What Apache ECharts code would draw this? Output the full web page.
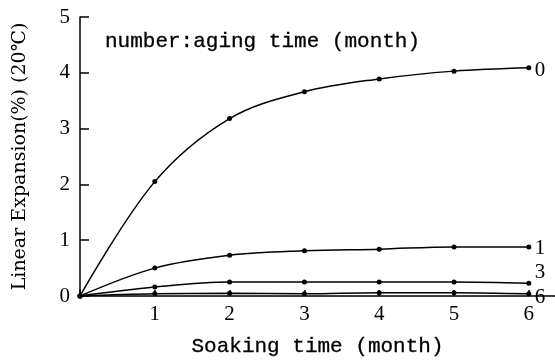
<!DOCTYPE html>
<html><head><meta charset="utf-8">
<script src="https://cdn.jsdelivr.net/npm/echarts@6/dist/echarts.min.js"></script>
<style>html,body{margin:0;padding:0;background:#fff}#c{width:555px;height:360px}</style>
</head><body><div id="c"></div>
<script>
const months = [0, 1, 2, 3, 4, 5, 6];
const aging0 = [0, 2.05, 3.18, 3.66, 3.89, 4.03, 4.09];
const aging1 = [0, 0.50, 0.73, 0.81, 0.84, 0.88, 0.88];
const aging3 = [0, 0.16, 0.25, 0.25, 0.25, 0.25, 0.23];
const aging6 = [0, 0.04, 0.05, 0.04, 0.06, 0.06, 0.04];
const seriesNames = ['0', '1', '3', '6'];
const yTicks = [0, 1, 2, 3, 4, 5];

const serif = 'Liberation Serif';
const mono = 'Liberation Mono';
const chart = echarts.init(document.getElementById('c'), null, {renderer: 'canvas'});
function mk(name, vals, off) {
  return {
    name: name, type: 'line', smooth: 0.35,
    data: months.map((m, i) => [m, vals[i]]),
    symbol: 'circle', symbolSize: 5,
    itemStyle: {color: '#000'},
    lineStyle: {color: '#000', width: 1.5},
    endLabel: {show: true, formatter: name, color: '#000', fontFamily: serif, fontSize: 21, offset: off, distance: 6},
    animation: false
  };
}
chart.setOption({
  backgroundColor: '#fff',
  animation: false,
  title: {text: 'number:aging time (month)', left: 100, top: 26,
    textStyle: {fontFamily: mono, fontWeight: 'normal', fontSize: 21, color: '#000', textBorderColor: '#000', textBorderWidth: 0.3}},
  grid: {left: 80, right: 0, top: 17, bottom: 64, outerBoundsMode: 'none', containLabel: false},
  xAxis: {
    type: 'value', min: 0, max: 6.35, interval: 1,
    name: 'Soaking time (month)', nameLocation: 'middle', nameGap: 40,
    nameTextStyle: {fontFamily: mono, fontSize: 21, color: '#000', textBorderColor: '#000', textBorderWidth: 0.3},
    axisLine: {show: true, onZero: false, lineStyle: {color: '#000', width: 1.5}},
    axisTick: {show: true, inside: true, length: 6, lineStyle: {color: '#000', width: 1.5}},
    axisLabel: {color: '#000', fontFamily: serif, fontSize: 21, margin: 8, showMaxLabel: false,
      formatter: v => (v === 0 ? '' : String(v))},
    splitLine: {show: false}
  },
  yAxis: {
    type: 'value', min: 0, max: 5, interval: 1,
    name: 'Linear Expansion(%) (20℃)', nameLocation: 'middle', nameGap: 50, nameRotate: 90,
    nameTextStyle: {fontFamily: 'DejaVu Serif', fontSize: 19, color: '#000'},
    axisLine: {show: true, lineStyle: {color: '#000', width: 1.5}},
    axisTick: {show: true, inside: true, length: 9, lineStyle: {color: '#000', width: 1.5}},
    axisLabel: {color: '#000', fontFamily: serif, fontSize: 21, margin: 10,
      formatter: v => (yTicks.includes(v) ? String(v) : '')},
    splitLine: {show: false}
  },
  series: [
    mk(seriesNames[0], aging0, [0, 3]),
    mk(seriesNames[1], aging1, [0, 2]),
    mk(seriesNames[2], aging3, [0, -11]),
    mk(seriesNames[3], aging6, [0, 4])
  ]
});
</script></body></html>
